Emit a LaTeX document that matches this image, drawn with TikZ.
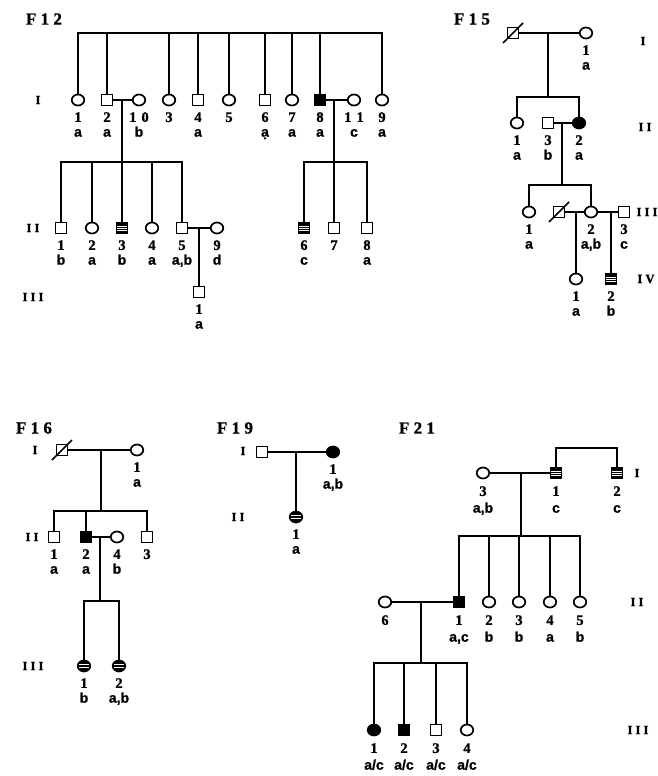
\documentclass[tikz,border=0pt]{standalone}
\usepackage{fontspec}
\setmainfont{Liberation Serif}
\newfontfamily\numfont[FakeBold=1.2]{Liberation Serif}
\newfontfamily\letfont[FakeBold=1.2]{Liberation Sans}
\newfontfamily\spacedfont[LetterSpace=25, FakeBold=1.2]{Liberation Serif}
\usetikzlibrary{positioning, shapes.geometric}

% number and letter below a symbol
\newcommand{\numdy}{17}
\newcommand{\letdy}{33}
\newcommand{\lab}[3]{%
  \node[numlab] (#1n) at ([yshift=-\numdy pt]#1) {#2};
  \node[letlab] (#1l) at ([yshift=-\letdy pt]#1) {#3};}
\newcommand{\labn}[2]{%
  \node[numlab] (#1n) at ([yshift=-\numdy pt]#1) {#2};}

\begin{document}
\begin{tikzpicture}[
    x=1pt, y=-1pt, line width=1.7pt,
    fem/.style={ellipse, draw, line width=1.7pt, minimum width=12.5pt,
                minimum height=11pt, inner sep=0pt},
    mal/.style={rectangle, draw, line width=1.4pt, minimum size=10.5pt,
                inner sep=0pt},
    aff/.style={fill=black},
    partm/.style={fill=black, path picture={
        \foreach \dy in {-2.2,0,2.2}
          \draw[white, line width=0.5pt]
            ([yshift=\dy pt]path picture bounding box.west) --
            ([yshift=\dy pt]path picture bounding box.east);}},
    partf/.style={fill=black, path picture={
        \foreach \dy in {-1.4,1.4}
          \draw[white, line width=0.6pt]
            ([yshift=\dy pt]path picture bounding box.west) --
            ([yshift=\dy pt]path picture bounding box.east);}},
    fam/.style={font=\spacedfont\bfseries\fontsize{17}{17}\selectfont},
    gen/.style={font=\spacedfont\bfseries\fontsize{12.5}{12.5}\selectfont},
    numlab/.style={font=\numfont\bfseries\fontsize{14.5}{14.5}\selectfont,
                   inner sep=0pt, text height=9.8pt, text depth=0pt},
    letlab/.style={font=\letfont\bfseries\fontsize{14}{14}\selectfont,
                   inner sep=0pt, text height=7.3pt, text depth=0pt},
]
\useasboundingbox (0,0) rectangle (658,776);

% ---------------- F12 ----------------
\node[fam] (t12) at (44,19) {F12};
\node[gen] (g12a) at (38,100) {I};
\node[gen] (g12b) at (33,228) {II};
\node[gen] (g12c) at (33,297) {III};
\coordinate (f12top) at (0,33);
\coordinate (f12s1) at (0,162);
\node[fem] (f12-1-1) at (78,100) {};
\node[mal] (f12-1-2) at (107,100) {};
\node[fem] (f12-1-10) at (139,100) {};
\node[fem] (f12-1-3) at (169,100) {};
\node[mal] (f12-1-4) at (198,100) {};
\node[fem] (f12-1-5) at (229,100) {};
\node[mal] (f12-1-6) at (265,100) {};
\node[fem] (f12-1-7) at (292,100) {};
\node[mal, aff] (f12-1-8) at (320,100) {};
\node[fem] (f12-1-11) at (354,100) {};
\node[fem] (f12-1-9) at (382,100) {};
\lab{f12-1-1}{1}{a}
\lab{f12-1-2}{2}{a}
\lab{f12-1-10}{1\hspace{5pt}0}{b}
\labn{f12-1-3}{3}
\lab{f12-1-4}{4}{a}
\labn{f12-1-5}{5}
\lab{f12-1-6}{6}{ạ}
\lab{f12-1-7}{7}{a}
\lab{f12-1-8}{8}{a}
\lab{f12-1-11}{1\hspace{5pt}1}{c}
\lab{f12-1-9}{9}{a}
\draw (f12-1-1.north) |- (f12-1-9.north |- f12top) -- (f12-1-9.north);
\foreach \k in {2,3,4,5,6,7,8}
  \draw (f12-1-\k.north) -- (f12-1-\k.north |- f12top);
\draw (f12-1-2.east) -- (f12-1-10.west);
\draw (f12-1-8.east) -- (f12-1-11.west);
\coordinate (f12m1) at (122,100);
\coordinate (f12m2) at (334,100);
\draw (f12m1) -- (f12m1 |- f12s1);
\draw (f12m2) -- (f12m2 |- f12s1);

\node[mal] (f12-2-1) at (61,228) {};
\node[fem] (f12-2-2) at (92,228) {};
\node[mal, partm] (f12-2-3) at (122,228) {};
\node[fem] (f12-2-4) at (152,228) {};
\node[mal] (f12-2-5) at (182,228) {};
\node[fem] (f12-2-9) at (217,228) {};
\node[mal, partm] (f12-2-6) at (304,228) {};
\node[mal] (f12-2-7) at (334,228) {};
\node[mal] (f12-2-8) at (367,228) {};
\lab{f12-2-1}{1}{b}
\lab{f12-2-2}{2}{a}
\lab{f12-2-3}{3}{b}
\lab{f12-2-4}{4}{a}
\lab{f12-2-5}{5}{a,b}
\lab{f12-2-9}{9}{d}
\lab{f12-2-6}{6}{c}
\labn{f12-2-7}{7}
\lab{f12-2-8}{8}{a}
\draw (f12-2-1.north) |- (f12-2-5.north |- f12s1) -- (f12-2-5.north);
\foreach \k in {2,3,4}
  \draw (f12-2-\k.north) -- (f12-2-\k.north |- f12s1);
\draw (f12-2-6.north) |- (f12-2-8.north |- f12s1) -- (f12-2-8.north);
\draw (f12-2-7.north) -- (f12-2-7.north |- f12s1);
\draw (f12-2-5.east) -- (f12-2-9.west);

\node[mal] (f12-3-1) at (199,292) {};
\lab{f12-3-1}{1}{a}
\draw (f12-3-1.north |- f12-2-5) -- (f12-3-1.north);

% ---------------- F15 ----------------
\node[fam] (t15) at (472,19) {F15};
\node[gen] (g15a) at (643,41) {I};
\node[gen] (g15b) at (645,127) {II};
\node[gen] (g15c) at (647,212) {III};
\node[gen] (g15d) at (646,279) {IV};
\coordinate (f15s1) at (0,97);
\coordinate (f15s2) at (0,185);
\node[mal] (f15-1-0) at (513,33) {};
\node[fem] (f15-1-1) at (586,33) {};
\draw (f15-1-0.center) ++(-10,10) -- ++(20,-20);
\lab{f15-1-1}{1}{a}
\draw (f15-1-0.east) -- (f15-1-1.west);
\coordinate (f15m1) at (548,33);
\draw (f15m1) -- (f15m1 |- f15s1);

\node[fem] (f15-2-1) at (517,123) {};
\node[mal] (f15-2-3) at (548,123) {};
\node[fem, aff] (f15-2-2) at (579,123) {};
\lab{f15-2-1}{1}{a}
\lab{f15-2-3}{3}{b}
\lab{f15-2-2}{2}{a}
\draw (f15-2-1.north) |- (f15-2-2.north |- f15s1) -- (f15-2-2.north);
\draw (f15-2-3.east) -- (f15-2-2.west);
\coordinate (f15m2) at (562,123);
\draw (f15m2) -- (f15m2 |- f15s2);

\node[fem] (f15-3-1) at (529,212) {};
\node[mal] (f15-3-0) at (559,212) {};
\node[fem] (f15-3-2) at (591,212) {};
\node[mal] (f15-3-3) at (624,212) {};
\draw (f15-3-0.center) ++(-10,10) -- ++(20,-20);
\lab{f15-3-1}{1}{a}
\lab{f15-3-2}{2}{a,b}
\lab{f15-3-3}{3}{c}
\draw (f15-3-1.north) |- (f15-3-2.north |- f15s2) -- (f15-3-2.north);
\draw (f15-3-0.east) -- (f15-3-2.west);
\draw (f15-3-2.east) -- (f15-3-3.west);

\node[fem] (f15-4-1) at (576,279) {};
\node[mal, partm] (f15-4-2) at (611,279) {};
\lab{f15-4-1}{1}{a}
\lab{f15-4-2}{2}{b}
\draw (f15-4-1.north |- f15-3-2) -- (f15-4-1.north);
\draw (f15-4-2.north |- f15-3-2) -- (f15-4-2.north);

% ---------------- F16 ----------------
\node[fam] (t16) at (34,428) {F16};
\node[gen] (g16a) at (35,450) {I};
\node[gen] (g16b) at (32,537) {II};
\node[gen] (g16c) at (33,666) {III};
\coordinate (f16s1) at (0,511);
\coordinate (f16s2) at (0,601);
\node[mal] (f16-1-0) at (62,450) {};
\node[fem] (f16-1-1) at (137,450) {};
\draw (f16-1-0.center) ++(-10,10) -- ++(20,-20);
\lab{f16-1-1}{1}{a}
\draw (f16-1-0.east) -- (f16-1-1.west);
\coordinate (f16m1) at (101,450);
\draw (f16m1) -- (f16m1 |- f16s1);

\node[mal] (f16-2-1) at (54,537) {};
\node[mal, aff] (f16-2-2) at (86,537) {};
\node[fem] (f16-2-4) at (117,537) {};
\node[mal] (f16-2-3) at (147,537) {};
\lab{f16-2-1}{1}{a}
\lab{f16-2-2}{2}{a}
\lab{f16-2-4}{4}{b}
\labn{f16-2-3}{3}
\draw (f16-2-1.north) |- (f16-2-3.north |- f16s1) -- (f16-2-3.north);
\draw (f16-2-2.north) -- (f16-2-2.north |- f16s1);
\draw (f16-2-2.east) -- (f16-2-4.west);
\coordinate (f16m2) at (100,537);
\draw (f16m2) -- (f16m2 |- f16s2);

\node[fem, partf] (f16-3-1) at (84,666) {};
\node[fem, partf] (f16-3-2) at (119,666) {};
\lab{f16-3-1}{1}{b}
\lab{f16-3-2}{2}{a,b}
\draw (f16-3-1.north) |- (f16-3-2.north |- f16s2) -- (f16-3-2.north);

% ---------------- F19 ----------------
\node[fam] (t19) at (235,428) {F19};
\node[gen] (g19a) at (243,451) {I};
\node[gen] (g19b) at (238,517) {II};
\node[mal] (f19-1-0) at (262,452) {};
\node[fem, aff] (f19-1-1) at (333,452) {};
\lab{f19-1-1}{1}{a,b}
\draw (f19-1-0.east) -- (f19-1-1.west);
\node[fem, partf] (f19-2-1) at (296,517) {};
\lab{f19-2-1}{1}{a}
\draw (f19-2-1.north |- f19-1-0) -- (f19-2-1.north);

% ---------------- F21 ----------------
\renewcommand{\numdy}{18}
\renewcommand{\letdy}{36}
\node[fam] (t21) at (417,428) {F21};
\node[gen] (g21a) at (637,473) {I};
\node[gen] (g21b) at (637,602) {II};
\node[gen] (g21c) at (638,730) {III};
\coordinate (f21top) at (0,448);
\coordinate (f21s1) at (0,536);
\coordinate (f21s2) at (0,663);
\node[fem] (f21-1-3) at (483,473) {};
\node[mal, partm] (f21-1-1) at (556,473) {};
\node[mal, partm] (f21-1-2) at (617,473) {};
\lab{f21-1-3}{3}{a,b}
\lab{f21-1-1}{1}{c}
\lab{f21-1-2}{2}{c}
\draw (f21-1-1.north) |- (f21-1-2.north |- f21top) -- (f21-1-2.north);
\draw (f21-1-3.east) -- (f21-1-1.west);
\coordinate (f21m1) at (521,473);
\draw (f21m1) -- (f21m1 |- f21s1);

\node[fem] (f21-2-6) at (385,602) {};
\node[mal, aff] (f21-2-1) at (459,602) {};
\node[fem] (f21-2-2) at (489,602) {};
\node[fem] (f21-2-3) at (519,602) {};
\node[fem] (f21-2-4) at (550,602) {};
\node[fem] (f21-2-5) at (580,602) {};
\labn{f21-2-6}{6}
\lab{f21-2-1}{1}{a,c}
\lab{f21-2-2}{2}{b}
\lab{f21-2-3}{3}{b}
\lab{f21-2-4}{4}{a}
\lab{f21-2-5}{5}{b}
\draw (f21-2-1.north) |- (f21-2-5.north |- f21s1) -- (f21-2-5.north);
\foreach \k in {2,3,4}
  \draw (f21-2-\k.north) -- (f21-2-\k.north |- f21s1);
\draw (f21-2-6.east) -- (f21-2-1.west);
\coordinate (f21m2) at (421,602);
\draw (f21m2) -- (f21m2 |- f21s2);

\node[fem, aff] (f21-3-1) at (374,730) {};
\node[mal, aff] (f21-3-2) at (404,730) {};
\node[mal] (f21-3-3) at (436,730) {};
\node[fem] (f21-3-4) at (467,730) {};
\foreach \k in {1,2,3,4}
  \lab{f21-3-\k}{\k}{a/c}
\draw (f21-3-1.north) |- (f21-3-4.north |- f21s2) -- (f21-3-4.north);
\foreach \k in {2,3}
  \draw (f21-3-\k.north) -- (f21-3-\k.north |- f21s2);
\end{tikzpicture}
\end{document}
